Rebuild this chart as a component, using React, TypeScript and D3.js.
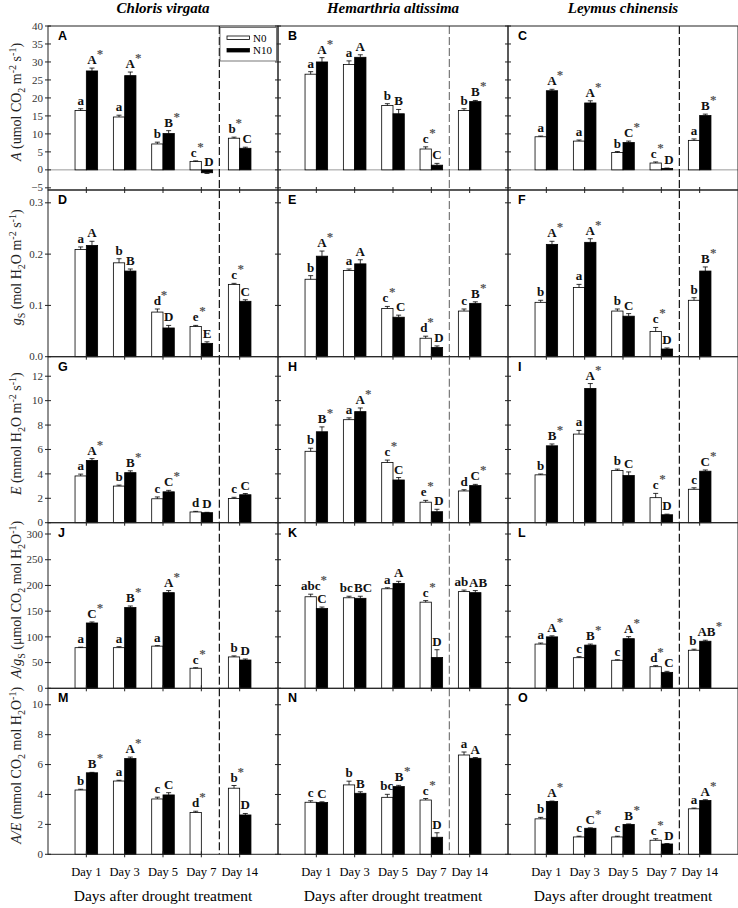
import React from 'react';
import * as d3 from 'd3';

const species = ["Chloris virgata", "Hemarthria altissima", "Leymus chinensis"];
const days = ["Day 1", "Day 3", "Day 5", "Day 7", "Day 14"];
const panelTags = [["A", "B", "C"], ["D", "E", "F"], ["G", "H", "I"], ["J", "K", "L"], ["M", "N", "O"]];
const legendKeys = ["N0", "N10"];

// A - net photosynthetic rate
const aN0 = [[16.5, 14.7, 7.2, 2.3, 8.8], [26.6, 29.3, 17.9, 5.8, 16.5], [9.2, 8.0, 4.8, 1.9, 8.2]];
const aN0Err = [[0.5, 0.5, 0.5, 0.2, 0.3], [0.7, 1.0, 0.5, 0.6, 0.5], [0.2, 0.3, 0.3, 0.3, 0.4]];
const aN10 = [[27.5, 26.2, 10.1, -0.8, 6.0], [30.0, 31.3, 15.6, 1.3, 19.0], [22.0, 18.6, 7.6, 0.4, 15.1]];
const aN10Err = [[0.8, 1.0, 0.8, 0.2, 0.3], [1.2, 0.7, 1.2, 0.5, 0.3], [0.4, 0.6, 0.4, 0.1, 0.4]];
const aN0Sig = [["a", "a", "b", "c*", "b*"], ["a", "a", "b", "c*", "b"], ["a", "a", "b", "c*", "a"]];
const aN10Sig = [["A*", "A*", "B*", "D", "C"], ["A*", "A", "B", "C", "B*"], ["A*", "A*", "C*", "D", "B*"]];

// gs - stomatal conductance
const gsN0 = [[0.209, 0.183, 0.087, 0.059, 0.141], [0.151, 0.168, 0.094, 0.036, 0.089], [0.106, 0.135, 0.089, 0.049, 0.110]];
const gsN0Err = [[0.005, 0.008, 0.006, 0.002, 0.002], [0.007, 0.003, 0.004, 0.004, 0.004], [0.004, 0.006, 0.004, 0.008, 0.005]];
const gsN10 = [[0.217, 0.167, 0.056, 0.026, 0.108], [0.196, 0.181, 0.077, 0.018, 0.104], [0.219, 0.223, 0.079, 0.015, 0.167]];
const gsN10Err = [[0.008, 0.004, 0.005, 0.003, 0.003], [0.010, 0.008, 0.004, 0.003, 0.003], [0.006, 0.007, 0.005, 0.002, 0.008]];
const gsN0Sig = [["a", "b", "d*", "e*", "c*"], ["b", "a", "c*", "d*", "c"], ["b", "a", "b", "c*", "b"]];
const gsN10Sig = [["A", "B", "D", "E", "C"], ["A*", "A", "C", "D", "B*"], ["A*", "A*", "C", "D", "B*"]];

// E - transpiration rate
const eN0 = [[3.83, 3.0, 1.96, 0.88, 1.98], [5.85, 8.44, 4.93, 1.68, 2.6], [3.92, 7.26, 4.27, 2.05, 2.74]];
const eN0Err = [[0.15, 0.08, 0.15, 0.05, 0.1], [0.25, 0.15, 0.2, 0.15, 0.1], [0.07, 0.3, 0.12, 0.35, 0.12]];
const eN10 = [[5.1, 4.1, 2.53, 0.82, 2.29], [7.45, 9.1, 3.5, 0.9, 3.04], [6.3, 11.0, 3.86, 0.65, 4.22]];
const eN10Err = [[0.15, 0.15, 0.12, 0.03, 0.1], [0.4, 0.3, 0.2, 0.2, 0.1], [0.15, 0.4, 0.3, 0.05, 0.1]];
const eN0Sig = [["a", "b", "c", "d", "c"], ["b", "a", "c*", "e*", "d"], ["b", "a", "b", "c*", "c"]];
const eN10Sig = [["A*", "B*", "C*", "D", "C"], ["B*", "A*", "C", "D", "C*"], ["B*", "A*", "C", "D", "C*"]];

// A/gs - intrinsic water use efficiency
const wN0 = [[79, 79, 82, 39, 61], [178, 176, 193.5, 167.5, 188], [86, 59.5, 54.5, 42, 74]];
const wN0Err = [[1, 2, 1, 1, 2], [5, 3, 2, 3, 3], [2, 2, 1, 2, 2]];
const wN10 = [[127, 157, 186, null, 55], [155, 175, 204, 60, 186], [100, 84, 96.5, 31, 91.5]];
const wN10Err = [[2, 3, 4, null, 2], [3, 4, 4, 15, 4], [2, 2, 4, 2, 2]];
const wN0Sig = [["a", "a", "a", "c*", "b"], ["abc*", "bc", "a", "c*", "ab"], ["a", "c", "c", "d*", "b"]];
const wN10Sig = [["C*", "B*", "A*", "", "D"], ["C", "BC", "A", "D", "AB"], ["A*", "B*", "A*", "C", "AB*"]];

// A/E - instantaneous water use efficiency
const tN0 = [[4.3, 4.9, 3.7, 2.8, 4.42], [3.48, 4.64, 3.81, 3.63, 6.64], [2.37, 1.16, 1.16, 0.94, 3.04]];
const tN0Err = [[0.05, 0.05, 0.12, 0.08, 0.18], [0.1, 0.25, 0.2, 0.1, 0.2], [0.1, 0.05, 0.05, 0.1, 0.05]];
const tN10 = [[5.45, 6.4, 3.97, null, 2.63], [3.46, 4.08, 4.53, 1.14, 6.42], [3.53, 1.74, 2.0, 0.69, 3.6]];
const tN10Err = [[0.03, 0.1, 0.15, null, 0.1], [0.05, 0.1, 0.08, 0.3, 0.05], [0.03, 0.03, 0.03, 0.03, 0.05]];
const tN0Sig = [["b", "a", "c", "d*", "b*"], ["c", "b", "bc", "c*", "a"], ["b", "c", "c", "c*", "a"]];
const tN10Sig = [["B*", "A*", "C", "", "D"], ["C", "B", "B*", "D", "A"], ["A*", "C*", "B*", "D", "A*"]];

const serif = "'Liberation Serif', 'Times New Roman', serif";
const sans = "'Liberation Sans', Arial, sans-serif";

const left = 48;
const panelW = 230;
const rowEdges = [26, 190, 356.7, 522.7, 688.3, 854.3];
const barW = 11.3;

// label pieces: n normal, i italic, sub, sup
function AxisLabel({ parts, x, y }) {
  let shift = 0;
  const spans = parts.map(([t, k], i) => {
    const target = k === "sub" ? 4 : k === "sup" ? -5 : 0;
    const dy = target - shift;
    shift = target;
    return (
      <tspan key={i} dy={dy} fontStyle={k === "i" ? "italic" : "normal"}
        fontSize={k === "sub" || k === "sup" ? 10 : 14}>{t}</tspan>
    );
  });
  return (
    <text transform={`translate(${x},${y}) rotate(-90)`} textAnchor="middle"
      fontFamily={serif} fill="#222">{spans}</text>
  );
}

function sigWidth(s) {
  return s.replace("*", "").split("").reduce((w, ch) => w + (ch === ch.toUpperCase() ? 9 : 6.3), 0);
}

function SigLabel({ cx, base, sig }) {
  if (!sig) return null;
  const star = sig.endsWith("*");
  const txt = sig.replace("*", "");
  const w = sigWidth(txt);
  return (
    <g fontFamily={serif} fontWeight="bold" fontSize={13}>
      <text x={cx} y={base} textAnchor="middle" fill="#111">{txt}</text>
      {star && <text x={cx + w / 2 + 0.3} y={base - 6} fill="#555">*</text>}
    </g>
  );
}

export default function App() {
  const rows = [
    { n0: aN0, n0e: aN0Err, n10: aN10, n10e: aN10Err, s0: aN0Sig, s10: aN10Sig,
      domain: [-5.6, 40], ticks: d3.range(-5, 41, 5), fmt: d3.format("d"), zero: true,
      label: [["A", "i"], [" (umol CO", "n"], ["2", "sub"], [" m", "n"], ["-2", "sup"], [" s", "n"], ["-1", "sup"], [")", "n"]] },
    { n0: gsN0, n0e: gsN0Err, n10: gsN10, n10e: gsN10Err, s0: gsN0Sig, s10: gsN10Sig,
      domain: [0, 0.325], ticks: [0, 0.1, 0.2, 0.3], fmt: d3.format(".1f"), zero: false,
      label: [["g", "i"], ["S", "sub"], [" (mol H", "n"], ["2", "sub"], ["O m", "n"], ["-2", "sup"], [" s", "n"], ["-1", "sup"], [")", "n"]] },
    { n0: eN0, n0e: eN0Err, n10: eN10, n10e: eN10Err, s0: eN0Sig, s10: eN10Sig,
      domain: [0, 13.6], ticks: d3.range(0, 13, 2), fmt: d3.format("d"), zero: false,
      label: [["E", "i"], [" (mmol H", "n"], ["2", "sub"], ["O m", "n"], ["-2", "sup"], [" s", "n"], ["-1", "sup"], [")", "n"]] },
    { n0: wN0, n0e: wN0Err, n10: wN10, n10e: wN10Err, s0: wN0Sig, s10: wN10Sig,
      domain: [0, 322], ticks: d3.range(0, 301, 50), fmt: d3.format("d"), zero: false,
      label: [["A", "i"], ["/", "n"], ["g", "i"], ["S", "sub"], [" (μmol CO", "n"], ["2", "sub"], [" mol H", "n"], ["2", "sub"], ["O", "n"], ["-1", "sup"], [")", "n"]] },
    { n0: tN0, n0e: tN0Err, n10: tN10, n10e: tN10Err, s0: tN0Sig, s10: tN10Sig,
      domain: [0, 11.1], ticks: d3.range(0, 11, 2), fmt: d3.format("d"), zero: false,
      label: [["A/E", "i"], [" (mmol CO", "n"], ["2", "sub"], [" mol H", "n"], ["2", "sub"], ["O", "n"], ["-1", "sup"], [")", "n"]] },
  ];

  const labelBase = (y, v, err) => y(Math.max(v + err, 0)) - 4;

  const drawBar = (key, y, v, err, cx, filled) => {
    if (v === null || v === undefined) return null;
    const y0 = y(0);
    const yv = y(v);
    const sgn = v < 0 ? -1 : 1;
    const ye = y(v + sgn * err);
    const bx = filled ? cx : cx - barW;
    return (
      <g key={key}>
        <rect x={bx} y={Math.min(y0, yv)} width={barW} height={Math.abs(y0 - yv)}
          fill={filled ? "#000" : "#fff"} stroke="#000" strokeWidth={0.8} />
        <line x1={bx + barW / 2} x2={bx + barW / 2} y1={yv} y2={ye} stroke="#000" strokeWidth={0.8} />
        <line x1={bx + barW / 2 - 2.5} x2={bx + barW / 2 + 2.5} y1={ye} y2={ye} stroke="#000" strokeWidth={0.8} />
      </g>
    );
  };

  const drawLabels = (y, row, c, i, cx) => {
    const v0 = row.n0[c][i], v1 = row.n10[c][i];
    const s0 = row.s0[c][i], s1 = row.s10[c][i];
    let x0 = cx - barW / 2, x1 = cx + barW / 2;
    const b0 = v0 === null ? 0 : labelBase(y, v0, row.n0e[c][i]);
    const b1 = v1 === null ? 0 : labelBase(y, v1, row.n10e[c][i]);
    if (s0 && s1 && v0 !== null && v1 !== null && Math.abs(b0 - b1) < 12) {
      const need = sigWidth(s0) / 2 + (s0.endsWith("*") ? 6 : 0) + sigWidth(s1) / 2 + 1.5 - (x1 - x0);
      if (need > 0) { x0 -= need / 2; x1 += need / 2; }
    }
    return (
      <g>
        {v0 !== null && <SigLabel cx={x0} base={b0} sig={s0} />}
        {v1 !== null && <SigLabel cx={x1} base={b1} sig={s1} />}
      </g>
    );
  };

  return (
    <svg width={738} height={908} style={{ position: "absolute", left: 0, top: 0, background: "#fff" }}>
      <rect width={738} height={908} fill="#fff" />
      {species.map((sp, c) => (
        <text key={sp} x={left + c * panelW + panelW / 2} y={13} textAnchor="middle"
          fontFamily={serif} fontWeight="bold" fontStyle="italic" fontSize={15}>{sp}</text>
      ))}
      {rows.map((row, r) => {
        const y = d3.scaleLinear().domain(row.domain).range([rowEdges[r + 1], rowEdges[r]]);
        const cy = (rowEdges[r] + rowEdges[r + 1]) / 2 - 6;
        return (
          <g key={r}>
            <AxisLabel parts={row.label} x={21} y={cy} />
            {row.ticks.map((t) => (
              <text key={t} x={left - 5} y={y(t)} dy="0.33em" textAnchor="end"
                fontFamily={serif} fontSize={11} fill="#333">{row.fmt(t)}</text>
            ))}
            {species.map((sp, c) => {
              const x0 = left + c * panelW;
              const x = d3.scaleLinear().domain([0, 6]).range([x0, x0 + panelW]);
              return (
                <g key={sp}>
                  {row.zero && <line x1={x0} x2={x0 + panelW} y1={y(0)} y2={y(0)} stroke="#999" strokeWidth={1} />}
                  {days.map((d, i) => {
                    const cx = x(i + 1);
                    return (
                      <g key={d}>
                        {drawBar("n0", y, row.n0[c][i], row.n0e[c][i], cx, false)}
                        {drawBar("n10", y, row.n10[c][i], row.n10e[c][i], cx, true)}
                        {drawLabels(y, row, c, i, cx)}
                        <line x1={cx} x2={cx} y1={rowEdges[r + 1] - 3} y2={rowEdges[r + 1] + 3} stroke="#222" />
                      </g>
                    );
                  })}
                  {row.ticks.map((t) => (
                    <line key={t} x1={x0 - 3} x2={x0 + 3} y1={y(t)} y2={y(t)} stroke="#222" />
                  ))}
                  <line x1={x(4.47)} x2={x(4.47)} y1={rowEdges[r]} y2={rowEdges[r + 1]}
                    stroke={c === 1 ? "#777" : "#111"} strokeWidth={1.2} strokeDasharray="8,3" />
                  <rect x={x0} y={rowEdges[r]} width={panelW} height={rowEdges[r + 1] - rowEdges[r]}
                    fill="none" stroke="#222" strokeWidth={1} />
                  <text x={x0 + 10} y={rowEdges[r] + 14} fontFamily={sans} fontWeight="bold" fontSize={12.5}>{panelTags[r][c]}</text>
                </g>
              );
            })}
          </g>
        );
      })}
      {/* legend */}
      <g>
        <rect x={220} y={27.5} width={56.5} height={33.5} fill="#fff" stroke="#555" strokeWidth={0.8} />
        {legendKeys.map((k, i) => (
          <g key={k}>
            <rect x={227} y={36 + i * 12.5} width={22.5} height={3.5} fill={i === 0 ? "#fff" : "#000"} stroke="#000" strokeWidth={0.8} />
            <text x={253} y={41.5 + i * 12.5} fontFamily={serif} fontSize={11}>{k}</text>
          </g>
        ))}
      </g>
      {species.map((sp, c) => {
        const x0 = left + c * panelW;
        const x = d3.scaleLinear().domain([0, 6]).range([x0, x0 + panelW]);
        return (
          <g key={sp + "x"} fontFamily={serif}>
            {days.map((d, i) => (
              <text key={d} x={x(i + 1)} y={876} textAnchor="middle" fontSize={12.5}>{d}</text>
            ))}
            <text x={x0 + panelW / 2} y={901} textAnchor="middle" fontSize={15.5}>Days after drought treatment</text>
          </g>
        );
      })}
    </svg>
  );
}
